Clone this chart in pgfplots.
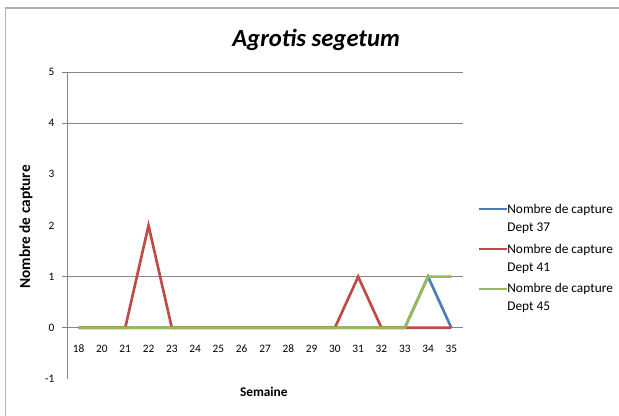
\documentclass[border=0pt]{standalone}
\usepackage{fontspec}
\setmainfont{Carlito}
\usepackage{pgfplots}
\pgfplotsset{compat=1.18}
\definecolor{cblue}{HTML}{4A7EBB}
\definecolor{cred}{HTML}{BE4B48}
\definecolor{cgreen}{HTML}{98B954}
\definecolor{gridc}{HTML}{868686}
\begin{document}
\begin{tikzpicture}
\useasboundingbox (0,0) rectangle (464.25pt,312pt);
\draw[gray!60, line width=0.8pt] (4pt,-2pt) -- (4pt,306pt) -- (470pt,306pt);
\begin{axis}[
  at={(50.25pt,27.75pt)}, anchor=south west,
  scale only axis, width=297pt, height=230.25pt,
  xmin=-0.5, xmax=16.5, ymin=-1, ymax=5,
  axis x line=middle, axis y line=left,
  axis line style={-, gridc, line width=0.6pt},
  hide obscured x ticks=false, hide obscured y ticks=false,
  tick align=outside,
  xtick={0,...,16},
  xticklabels={18,20,21,22,23,24,25,26,27,28,29,30,31,32,33,34,35},
  x tick style={draw=none},
  minor xtick={-0.5,0.5,...,16.5},
  minor x tick style={gridc, line width=0.6pt},
  minor tick length=3.5pt,
  major tick length=3.5pt,
  xticklabel style={font=\fontsize{8.5}{10}\selectfont, anchor=center, yshift=-12pt},
  ytick={0,1,4,5},
  ymajorgrids,
  y grid style={gridc, line width=0.6pt},
  y tick style={gridc, line width=0.6pt},
  extra y ticks={-1,2,3},
  extra tick style={grid=none, tick style={draw=none}},
  yticklabel style={font=\fontsize{8.5}{10}\selectfont, xshift=-2.5pt},
  /pgf/number format/assume math mode=true,
  title={\bfseries\itshape Agrotis segetum},
  title style={at={(axis description cs:0.629,1.111)}, anchor=center, yshift=-7.5pt, font=\fontsize{18.5}{22}\selectfont},
  xlabel={\bfseries Semaine},
  xlabel style={at={(axis description cs:0.497,-0.042)}, anchor=center, font=\fontsize{10}{12}\selectfont},
  ylabel={\bfseries Nombre de capture},
  ylabel style={at={(axis description cs:-0.1035,0.495)}, anchor=center, rotate=0, font=\fontsize{11.5}{14}\selectfont},
  legend image code/.code={\draw[#1] (0pt,0pt) -- (21pt,0pt);},
  legend style={at={(axis description cs:1.038,0.590)}, anchor=north west,
    draw=none, fill=none, inner sep=0pt, outer sep=0pt,
    font=\fontsize{10}{13.5}\selectfont,
    cells={anchor=base west}, row sep=15pt, column sep=-3pt},
  legend image post style={yshift=3pt},
  every axis plot/.append style={line width=2pt, no marks},
]
\addplot[cblue] coordinates {(0,0) (1,0) (2,0) (3,0) (4,0) (5,0) (6,0) (7,0) (8,0) (9,0) (10,0) (11,0) (12,0) (13,0) (14,0) (15,1) (16,0)};
\addlegendentry{\begin{tabular}[t]{@{}l@{}}Nombre de capture\\Dept 37\end{tabular}}
\addplot[cred] coordinates {(0,0) (1,0) (2,0) (3,2) (4,0) (5,0) (6,0) (7,0) (8,0) (9,0) (10,0) (11,0) (12,1) (13,0) (14,0) (15,0) (16,0)};
\addlegendentry{\begin{tabular}[t]{@{}l@{}}Nombre de capture\\Dept 41\end{tabular}}
\addplot[cgreen] coordinates {(0,0) (1,0) (2,0) (3,0) (4,0) (5,0) (6,0) (7,0) (8,0) (9,0) (10,0) (11,0) (12,0) (13,0) (14,0) (15,1) (16,1)};
\addlegendentry{\begin{tabular}[t]{@{}l@{}}Nombre de capture\\Dept 45\end{tabular}}
\end{axis}
\end{tikzpicture}
\end{document}
